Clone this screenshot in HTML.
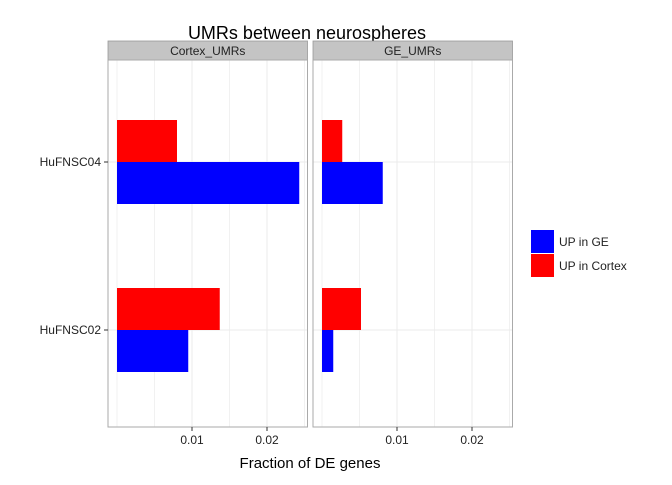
<!DOCTYPE html>
<html><head><meta charset="utf-8"><style>
body{margin:0;background:#fff;}
text{font-family:"Liberation Sans",sans-serif;}
</style></head><body>
<svg id="c" width="672" height="480" xmlns="http://www.w3.org/2000/svg"></svg>
<script>
const panels=["Cortex_UMRs","GE_UMRs"];
const samples=["HuFNSC04","HuFNSC02"];
const upGE=[[0.0243,0.0095],[0.0081,0.0015]];
const upCortex=[[0.0080,0.0137],[0.0027,0.0052]];
const majorTicks=[0.01,0.02];
const minorTicks=[0,0.005,0.015,0.025];
const tickLabels=["0.01","0.02"];
const legendLabels=["UP in GE","UP in Cortex"];
const colors=["#0000ff","#ff0000"];
const NS="http://www.w3.org/2000/svg";
const svg=document.getElementById('c');
function mk(t,a,p){const e=document.createElementNS(NS,t);for(const k in a)e.setAttribute(k,a[k]);(p||svg).appendChild(e);return e;}
const pL=[108,313],pW=199.5,pT=60,pB=427;
function xs(i,v){return pL[i]+9+v*7500;}
const yC=[162,330],bh=42;
let t=mk('text',{x:307,y:39,'font-size':18,'text-anchor':'middle'});t.textContent="UMRs between neurospheres";

panels.forEach((p,i)=>{
 let s=mk('rect',{x:pL[i],y:41,width:pW,height:19,fill:'#c4c4c4',stroke:'#999','stroke-width':0.8});
 
 let st=mk('text',{x:pL[i]+pW/2,y:55,'font-size':12,'text-anchor':'middle',fill:'#222'});st.textContent=p;
 
 let bg=mk('rect',{x:pL[i],y:pT,width:pW,height:pB-pT,fill:'#fff'});
 
 minorTicks.concat(majorTicks).forEach(v=>{const x=xs(i,v);if(x<pL[i]+pW){let g=mk('line',{x1:x,x2:x,y1:pT,y2:pB,stroke:'#ebebeb','stroke-width':majorTicks.includes(v)?1:0.7});}});
 yC.forEach(y=>{let g=mk('line',{x1:pL[i],x2:pL[i]+pW,y1:y,y2:y,stroke:'#ebebeb'});});
 samples.forEach((sm,j)=>{
  let r=mk('rect',{x:xs(i,0),y:yC[j]-bh,width:xs(i,upCortex[i][j])-xs(i,0),height:bh,fill:colors[1]});
  
  let b=mk('rect',{x:xs(i,0),y:yC[j],width:xs(i,upGE[i][j])-xs(i,0),height:bh,fill:colors[0]});
  
 });
 let f=mk('rect',{x:pL[i],y:pT,width:pW,height:pB-pT,fill:'none',stroke:'#aaa','stroke-width':1});
 
 majorTicks.forEach((v,k)=>{const x=xs(i,v);
  let tk=mk('line',{x1:x,x2:x,y1:pB,y2:pB+4,stroke:'#333'});
  let tl=mk('text',{x:x,y:pB+17,'font-size':12,'text-anchor':'middle',fill:'#222'});tl.textContent=tickLabels[k];
  });
});
samples.forEach((sm,j)=>{
 let tk=mk('line',{x1:104,x2:108,y1:yC[j],y2:yC[j],stroke:'#333'});
 let tl=mk('text',{x:101,y:yC[j]+4,'font-size':12,'text-anchor':'end',fill:'#222'});tl.textContent=sm;
 
});
let xt=mk('text',{x:310,y:468,'font-size':15,'text-anchor':'middle'});xt.textContent="Fraction of DE genes";

legendLabels.forEach((l,k)=>{
 let r=mk('rect',{x:531,y:230+k*24,width:23,height:23,fill:colors[k]});
 
 let lt=mk('text',{x:559,y:246+k*24,'font-size':12,fill:'#222'});lt.textContent=l;
 
});
</script>
</body></html>
